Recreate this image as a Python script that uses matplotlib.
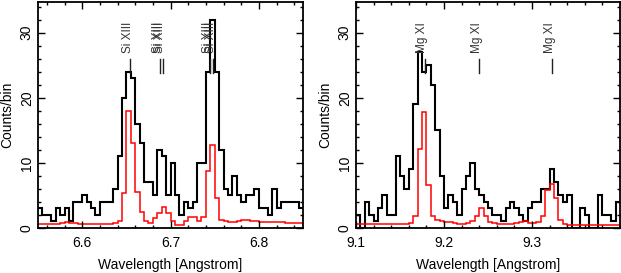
import numpy as np
import matplotlib
matplotlib.use("Agg")
import matplotlib.pyplot as plt
from matplotlib.ticker import MultipleLocator

plt.rcParams['font.family'] = ['Liberation Sans', 'DejaVu Sans']

# ---- data: counts per 0.005 A bin (black) and model (red) ----
bin_w = 0.005

si_start = 6.55
si_counts = [3, 2, 2, 1, 3, 2, 3, 1, 4, 4,
             5, 4, 3, 2, 4, 4, 4, 6, 11, 20,
             24, 23, 16, 13, 7, 7, 5, 12, 11, 5,
             10, 5, 2, 4, 3, 4, 10, 10, 24, 32,
             24, 12, 6, 5, 8, 5, 4, 5, 5, 6,
             3, 3, 2, 6, 3, 4, 4, 4, 4, 3]
si_model = [0.6, 0.6, 0.6, 0.6, 0.6, 0.7, 0.9, 0.8, 0.7, 0.6,
            0.6, 0.6, 0.6, 0.6, 0.6, 0.6, 0.6, 0.7, 1.0, 5.3,
            18.0, 13.0, 5.5, 2.5, 1.0, 0.75, 1.5, 2.3, 3.3, 2.3,
            1.0, 0.5, 0.5, 1.0, 1.65, 1.65, 1.0, 1.65, 8.8, 12.7,
            4.6, 1.3, 1.0, 0.9, 0.9, 1.1, 1.3, 1.2, 1.1, 1.0,
            0.9, 0.9, 0.85, 0.9, 0.9, 0.85, 0.8, 0.8, 0.75, 0.7]

mg_start = 9.10
mg_counts = [2, 0, 4, 2, 1, 3, 5, 2, 2, 11,
             8, 6, 9, 19, 27, 24, 25, 22, 15, 8,
             3, 5, 4, 2, 6, 8, 10, 6, 5, 4,
             3, 2, 2, 1, 3, 4, 3, 2, 1, 3,
             4, 4, 6, 6, 9, 7, 5, 4, 5, 0,
             0, 3, 2, 0, 0, 5, 2, 2, 1, 4]
mg_model = [0.6, 0.6, 0.6, 0.6, 0.6, 0.6, 0.6, 0.6, 0.6, 0.6,
            0.6, 0.6, 0.7, 1.9, 12.1, 17.8, 6.6, 1.9, 1.2, 1.0,
            0.9, 0.9, 0.7, 0.6, 0.6, 0.7, 1.0, 1.9, 3.0, 1.9,
            0.9, 0.7, 0.6, 0.6, 0.6, 0.6, 0.7, 0.9, 1.0, 0.8,
            0.8, 0.9, 1.8, 5.8, 6.7, 4.6, 1.2, 0.6, 0.5, 0.5,
            0.5, 0.5, 0.5, 0.5, 0.5, 0.5, 0.5, 0.5, 0.5, 0.5]

# line identifications
si_lines = [6.654, 6.688, 6.691, 6.745, 6.748]
si_names = ['Si XIII'] * 5
mg_lines = [9.178, 9.240, 9.323]
mg_names = ['Mg XI'] * 3

panels = [
    (si_start, si_counts, si_model, si_lines, si_names, (6.55, 6.85)),
    (mg_start, mg_counts, mg_model, mg_lines, mg_names, (9.10, 9.40)),
]

fig = plt.figure(figsize=(6.21, 2.73), dpi=100)
W, H = 621.0, 273.0
boxes = [[38 / W, 45 / H, 265 / W, 226 / H],
         [356 / W, 45 / H, 264 / W, 226 / H]]

for box, (start, counts, model, lines, names, xl) in zip(boxes, panels):
    ax = fig.add_axes(box)
    edges = start + bin_w * np.arange(len(counts) + 1)
    ax.stairs(counts, edges, color='black', lw=1.5, baseline=None)
    ax.stairs(model, edges, color='red', lw=1.1, baseline=None)

    for x, name in zip(lines, names):
        ax.plot([x, x], [23.8, 26.0], color='#222222', lw=1.0)
        ax.text(x + 0.0008, 26.9, name, rotation=90, rotation_mode='anchor',
                ha='left', va='baseline', fontsize=8.5, color='#333333')

    ax.set_xlim(*xl)
    ax.set_ylim(0, 34.7)
    ax.xaxis.set_major_locator(MultipleLocator(0.1))
    ax.xaxis.set_minor_locator(MultipleLocator(0.02))
    ax.yaxis.set_major_locator(MultipleLocator(10))
    ax.yaxis.set_minor_locator(MultipleLocator(2))
    ax.tick_params(which='both', direction='in', top=True, right=True,
                   labelsize=10, width=1.0)
    ax.tick_params(which='major', length=5)
    ax.tick_params(which='minor', length=2.5)
    ax.tick_params(axis='x', pad=6)
    ax.tick_params(axis='y', pad=3)
    plt.setp(ax.get_yticklabels(), rotation=90, va='center')
    if start > 9:
        ax.set_xticks([9.1, 9.2, 9.3])
        ax.xaxis.set_minor_locator(MultipleLocator(0.02))
    for s in ax.spines.values():
        s.set_linewidth(1.3)

    ax.set_xlabel('Wavelength [Angstrom]', fontsize=10, va='center')
    ax.xaxis.set_label_coords(0.5, -37 / 226)
    ax.set_ylabel('Counts/bin', fontsize=10, va='center')
    ax.yaxis.set_label_coords(-31 / 265, 0.5)

fig.savefig('out.png', dpi=100)
